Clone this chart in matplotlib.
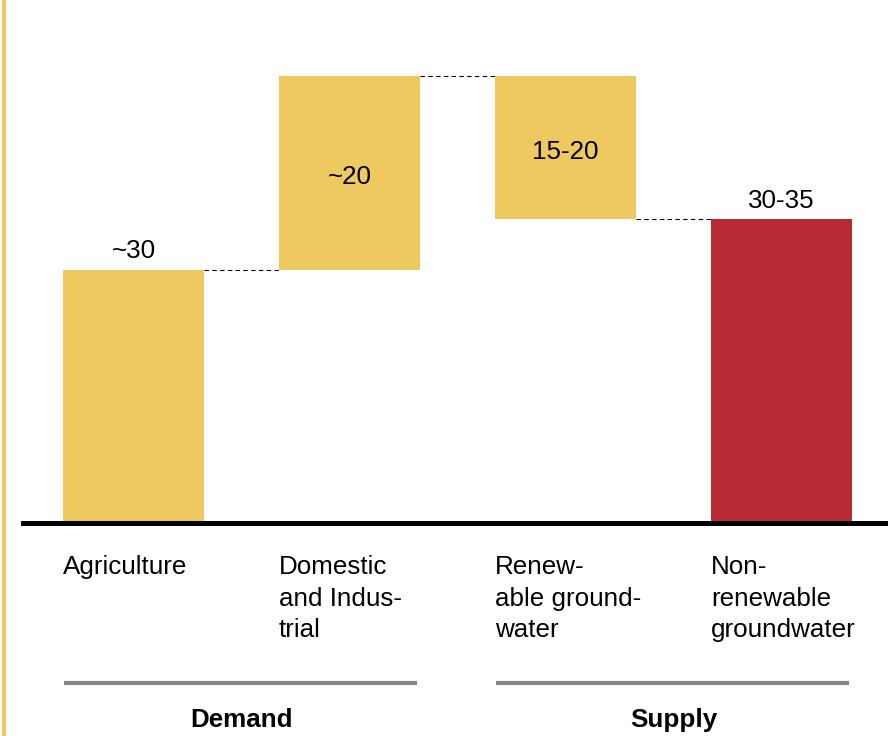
import matplotlib.pyplot as plt
from matplotlib.lines import Line2D

plt.rcParams['font.family'] = ['Liberation Sans', 'DejaVu Sans']

# data
categories = ["Agriculture", "Domestic\nand Indus-\ntrial",
              "Renew-\nable ground-\nwater", "Non-\nrenewable\ngroundwater"]
agriculture = 30
domestic = 23
renewable = 17
value_labels = ["~30", "~20", "15-20", "30-35"]
groups = ["Demand", "Supply"]

total = agriculture + domestic
non_renewable = total - renewable
heights = [agriculture, domestic, renewable, non_renewable]
bottoms = [0, agriculture, total - renewable, 0]

yellow = '#EDC95F'
red = '#B72A33'
colors = [yellow, yellow, yellow, red]

fig = plt.figure(figsize=(8.88, 7.36), dpi=100)
ax = fig.add_axes([23 / 888, 1 - 523 / 736, 865 / 888, 523 / 736])
ax.set_xlim(-0.512, 3.493)
ax.set_ylim(0, 62)
ax.axis('off')

w = 0.653
x = list(range(len(categories)))
ax.bar(x, heights, bottom=bottoms, width=w, color=colors, linewidth=0)

# connectors
tops = [b + h for b, h in zip(bottoms, heights)]
levels = [tops[0], tops[1], bottoms[2]]
for i, lev in enumerate(levels):
    ax.plot([x[i] + w / 2, x[i + 1] - w / 2], [lev, lev], color='black',
            lw=0.8, linestyle=(0, (4, 3)))

# baseline
ax.axhline(0, color='black', lw=3.6, clip_on=False)

fs = 18.7
# value labels
for i, lab in enumerate(value_labels):
    if i in (0, 3):
        ax.text(x[i], tops[i] + 1.4, lab, ha='center', va='baseline', fontsize=fs)
    else:
        mid = bottoms[i] + heights[i] / 2
        ax.text(x[i], mid - 1.3, lab, ha='center', va='baseline', fontsize=fs)

# category labels
for i, cat in enumerate(categories):
    ax.text(x[i] - w / 2, -3.85, cat, ha='left', va='top', fontsize=fs,
            linespacing=1.38, clip_on=False)

# group lines and labels
for g, (a, b) in enumerate([(0, 1), (2, 3)]):
    ax.plot([x[a] - 0.322, x[b] + 0.313], [-19, -19], color='#888888', lw=3,
            solid_capstyle='butt', clip_on=False)
    ax.text((x[a] + x[b]) / 2, -23.3, groups[g], ha='center', va='center',
            fontsize=fs, fontweight='bold', clip_on=False)

# left border line
fig.add_artist(Line2D([3.5 / 888, 3.5 / 888], [0, 1], color=yellow, lw=3,
                      transform=fig.transFigure))

fig.savefig('out.png', dpi=100)
